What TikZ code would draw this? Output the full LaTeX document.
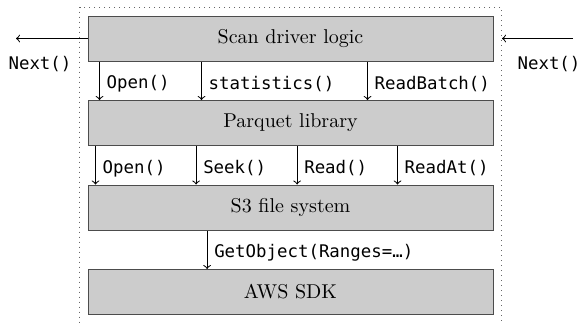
\documentclass[tikz,border=0pt]{standalone}
\usepackage{fontspec}
\setmonofont{DejaVu Sans Mono}
\usetikzlibrary{positioning,fit}

\begin{document}
\begin{tikzpicture}[
                layer/.style={rectangle, draw=black!70, fill=black!20, line width=0.5pt, minimum width=202.5pt, minimum height=22.5pt, font=\fontsize{10}{12}\selectfont},
                call/.style={font=\ttfamily\fontsize{8.7}{10}\selectfont},
                arrow/.style={->, line width=0.5pt}
            ]
                \useasboundingbox (0,0) rectangle (290.5pt,-161pt);

                \node[layer] (scan) at (145.25pt,-19.25pt) {Scan driver logic};
                \node[layer, below=19.25pt of scan] (parquet) {Parquet library};
                \node[layer, below=19.25pt of parquet] (s3) {S3 file system};
                \node[layer, below=19.25pt of s3] (aws) {AWS SDK};

                \node[fit=(scan)(aws), inner xsep=4pt, inner ysep=4.25pt, draw=black!60, dotted, line width=0.5pt] (frame) {};

                \draw[arrow] ([xshift=6pt]scan.south west) -- ([xshift=6pt]parquet.north west) node[midway,right,yshift=-1.5pt,call] {Open()};
                \draw[arrow] ([xshift=57pt]scan.south west) -- ([xshift=57pt]parquet.north west) node[midway,right,yshift=-1.5pt,call] {statistics()};
                \draw[arrow] ([xshift=140pt]scan.south west) -- ([xshift=140pt]parquet.north west) node[midway,right,yshift=-1.5pt,call] {ReadBatch()};

                \draw[arrow] ([xshift=4pt]parquet.south west) -- ([xshift=4pt]s3.north west) node[midway,right,yshift=-1.5pt,call] {Open()};
                \draw[arrow] ([xshift=54.3pt]parquet.south west) -- ([xshift=54.3pt]s3.north west) node[midway,right,yshift=-1.5pt,call] {Seek()};
                \draw[arrow] ([xshift=104.8pt]parquet.south west) -- ([xshift=104.8pt]s3.north west) node[midway,right,yshift=-1.5pt,call] {Read()};
                \draw[arrow] ([xshift=155pt]parquet.south west) -- ([xshift=155pt]s3.north west) node[midway,right,yshift=-1.5pt,call] {ReadAt()};

                \draw[arrow] ([xshift=59.8pt]s3.south west) -- ([xshift=59.8pt]aws.north west) node[midway,right,yshift=-1.5pt,call] {GetObject(Ranges=…)};

                % iterator calls in and out
                \coordinate (nextout) at (8pt,-19.25pt);
                \coordinate (nextin) at (286.5pt,-19.25pt);
                \draw[arrow] (scan.west) -- (nextout);
                \draw[arrow] (nextin) -- (scan -| frame.east);
                \node[call] (nextl) at (20pt,-32pt) {Next()};
                \node[call] (nextr) at (274.5pt,-32pt) {Next()};
            \end{tikzpicture}
\end{document}
